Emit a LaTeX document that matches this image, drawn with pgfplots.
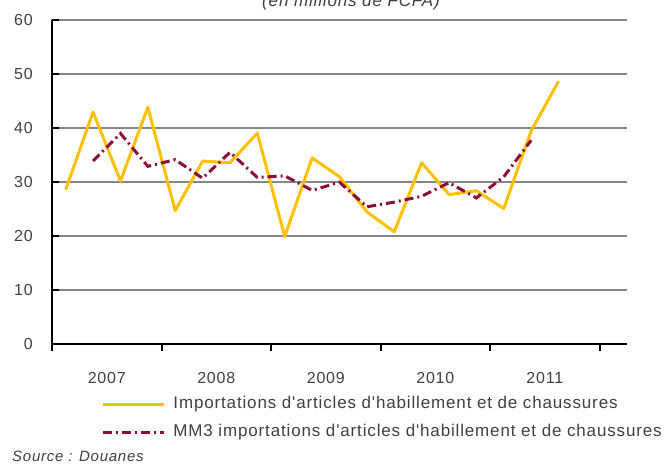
\documentclass[border=0pt]{standalone}
\usepackage{pgfplots}
\pgfplotsset{compat=1.18}
\usepackage{fontspec}
\setmainfont{Liberation Sans}
\newfontfamily\trackfont[LetterSpace=5]{Liberation Sans}
\definecolor{gold}{RGB}{255,192,0}
\definecolor{maroon}{RGB}{140,12,58}
\definecolor{gridgray}{RGB}{134,134,134}
\definecolor{txt}{RGB}{64,64,64}
\pgfplotstableread{
k v
0 28.6
1 43.0
2 30.2
3 43.9
4 24.7
5 33.9
6 33.6
7 39.1
8 19.9
9 34.5
10 31.0
11 24.5
12 20.8
13 33.6
14 27.7
15 28.4
16 25.1
17 39.5
18 48.7
}\imports
\pgfplotstableread{
k v
1 33.93
2 39.03
3 32.93
4 34.17
5 30.73
6 35.53
7 30.87
8 31.17
9 28.47
10 30.00
11 25.43
12 26.30
13 27.37
14 29.90
15 27.07
16 31.00
17 37.77
}\mmtrois
\begin{document}
\begin{tikzpicture}[x=1bp,y=1bp]
\begin{axis}[
  at={(0,0)}, anchor=south west,
  scale only axis, width=575bp, height=323.7bp,
  xmin=-0.5, xmax=20.5, ymin=0, ymax=60,
  axis lines*=left,
  axis line style={line width=2.5bp, black},
  ytick={0,10,...,60},
  ymajorgrids,
  grid style={gridgray, line width=2bp},
  xtick={-0.5,3.5,7.5,11.5,15.5,19.5},
  xticklabels={2007,2008,2009,2010,2011},
  x tick label as interval,
  xtick align=outside, ytick align=inside,
  major tick length=7bp,
  tick style={black, line width=2bp},
  xmajorgrids=false,
  /pgf/number format/assume math mode=true,
  yticklabel style={anchor=east, inner sep=0pt, xshift=-19bp, font=\fontsize{16bp}{19bp}\trackfont, text=txt},
  xticklabel style={anchor=north, inner sep=0pt, yshift=-21bp, font=\fontsize{16bp}{19bp}\trackfont, text=txt},
  legend style={at={(0.086,-0.161)}, anchor=north west, draw=none, fill=none,
    inner sep=0pt, outer sep=0pt,
    font=\fontsize{17bp}{20bp}\trackfont, text=txt,
    nodes={inner sep=0pt, text height=12bp, text depth=4bp},
    row sep=12bp},
  legend cell align=left,
  legend image code/.code={\draw[#1] (0bp,0bp) -- (61bp,0bp); \path (69bp,0bp);},
]
\addplot[gold, line width=3bp, line join=round] table[x=k, y=v] {\imports};
\addlegendentry{Importations d'articles d'habillement et de chaussures}
\addplot[maroon, line width=3bp, dash pattern=on 9bp off 4bp on 2bp off 4bp] table[x=k, y=v] {\mmtrois};
\addlegendentry{MM3 importations d'articles d'habillement et de chaussures}
\end{axis}
\node[anchor=base, font=\fontsize{17bp}{20bp}\itshape\trackfont, text=txt] at (299bp,337.5bp) {(en millions de FCFA)};
\node[anchor=base west, inner sep=0pt, font=\fontsize{15bp}{18bp}\itshape\trackfont, text=txt] at (-40bp,-117bp) {Source : Douanes};
\pgfresetboundingbox
\path[use as bounding box] (-52bp,-121bp) rectangle (612bp,344bp);
\end{tikzpicture}
\end{document}
